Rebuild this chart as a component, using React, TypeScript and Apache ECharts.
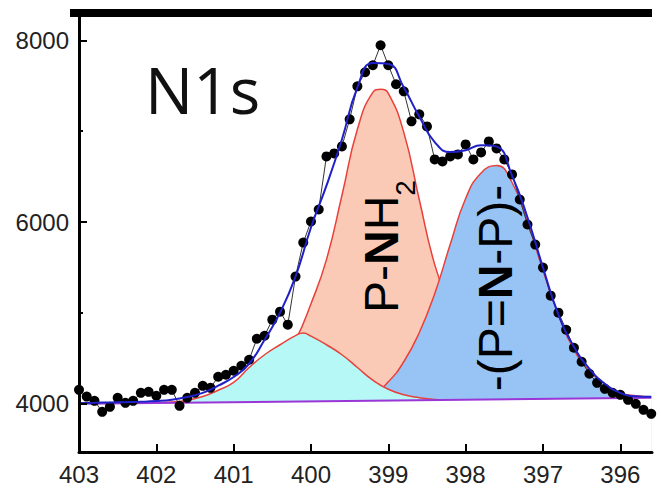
import React, { useEffect, useRef } from "react";
import * as echarts from "echarts";

// Binding energy (eV) of the measured points
const dataE = [
  403.0, 402.9, 402.8, 402.7, 402.6, 402.5, 402.4, 402.3, 402.2, 402.1,
  402.0, 401.9, 401.8, 401.7, 401.6, 401.5, 401.4, 401.3, 401.2, 401.1,
  401.0, 400.9, 400.8, 400.7, 400.6, 400.5, 400.4, 400.3, 400.2, 400.1,
  400.0, 399.9, 399.8, 399.7, 399.6, 399.5, 399.4, 399.3, 399.2, 399.1,
  399.0, 398.9, 398.8, 398.7, 398.6, 398.5, 398.4, 398.3, 398.2, 398.1,
  398.0, 397.9, 397.8, 397.7, 397.6, 397.5, 397.4, 397.3, 397.2, 397.1,
  397.0, 396.9, 396.8, 396.7, 396.6, 396.5, 396.4, 396.3, 396.2, 396.1,
  396.0, 395.9, 395.8, 395.7, 395.6,
];
// Measured intensity (counts)
const dataI = [
  4154, 4080, 4033, 3912, 3967, 4066, 4011, 4033, 4121, 4132,
  4088, 4154, 4154, 3978, 4066, 4121, 4198, 4176, 4298, 4320,
  4364, 4419, 4485, 4716, 4749, 4926, 5014, 4871, 5400, 5774,
  6006, 6138, 6722, 6755, 6832, 7130, 7493, 7648, 7725, 7945,
  7725, 7516, 7438, 7108, 7185, 7052, 6689, 6667, 6722, 6744,
  6854, 6689, 6766, 6887, 6810, 6689, 6524, 6248, 5973, 5752,
  5499, 5190, 5003, 4815, 4617, 4463, 4331, 4231, 4165, 4121,
  4099, 4044, 4000, 3934, 3890,
];

// Fitted envelope
const envE = [
  403.0, 402.8, 402.6, 402.4, 402.2, 402.0, 401.8, 401.6, 401.4, 401.2,
  401.0, 400.8, 400.6, 400.4, 400.2, 400.0, 399.8, 399.6, 399.4, 399.2,
  399.0, 398.8, 398.6, 398.4, 398.2, 398.0, 397.8, 397.6, 397.4, 397.2,
  397.0, 396.8, 396.6, 396.4, 396.2, 396.0, 395.8, 395.6,
];
const envI = [
  4010, 4012, 4015, 4018, 4022, 4030, 4045, 4075, 4120, 4200,
  4295, 4441, 4705, 5003, 5400, 5940, 6400, 6909, 7480, 7750,
  7740, 7480, 7160, 6880, 6770, 6790, 6845, 6830, 6510, 6050,
  5500, 4981, 4628, 4386, 4220, 4121, 4083, 4077,
];

// Component peaks
const cyanE = [402.0, 401.8, 401.6, 401.4, 401.2, 401.0, 400.8, 400.6, 400.4, 400.2, 400.1, 400.0, 399.8, 399.6, 399.4, 399.2, 399.0, 398.8, 398.6, 398.4, 398.2];
const cyanI = [4012, 4020, 4040, 4080, 4150, 4235, 4400, 4540, 4650, 4750, 4780, 4745, 4650, 4540, 4400, 4260, 4160, 4100, 4068, 4048, 4040];

const salmonE = [401.0, 400.8, 400.6, 400.4, 400.2, 400.0, 399.8, 399.6, 399.4, 399.2, 399.1, 399.0, 398.8, 398.6, 398.4, 398.2, 398.0, 397.8, 397.6, 397.4, 397.2, 397.0];
const salmonI = [4090, 4160, 4280, 4450, 4700, 5102, 5587, 6292, 7020, 7427, 7460, 7416, 6987, 6248, 5532, 5069, 4700, 4440, 4280, 4160, 4090, 4060];

const blueE = [399.4, 399.2, 399.0, 398.8, 398.6, 398.4, 398.2, 398.0, 397.8, 397.6, 397.4, 397.2, 397.0, 396.8, 396.6, 396.4, 396.2, 396.0, 395.8, 395.6];
const blueI = [4070, 4110, 4242, 4463, 4782, 5212, 5752, 6259, 6540, 6623, 6435, 6006, 5466, 4981, 4595, 4364, 4220, 4121, 4088, 4077];

// Background (baseline)
const baseE = [403.0, 395.6];
const baseI = [4000, 4066];

// Axis ticks
const xTicks = [403, 402, 401, 400, 399, 398, 397, 396];
const yMajor = [4000, 6000, 8000];
const yMinor = [5000, 7000];

const zip = (xs: number[], ys: number[]) => xs.map((x, i) => [x, ys[i]]);

export default function App() {
  const ref = useRef<HTMLDivElement>(null);
  useEffect(() => {
    const chart = echarts.init(ref.current!, null, { renderer: "svg" });
    const labelFont = "Liberation Sans";
    const peak = (E: number[], I: number[], fill: string, z: number) => ({
      type: "line",
      data: zip(E, I),
      smooth: true,
      symbol: "none",
      silent: true,
      z,
      lineStyle: { color: "#e8403a", width: 1.5 },
      areaStyle: { color: fill, opacity: 1, origin: "start" },
    });
    chart.setOption({
      animation: false,
      grid: { left: 79, right: 9, top: 13, bottom: 36, containLabel: false },
      xAxis: {
        type: "value",
        inverse: true,
        min: 395.59,
        max: 403,
        z: 20,
        axisLine: { show: true, lineStyle: { color: "#000", width: 3 } },
        axisTick: { show: true, inside: true, length: 8, lineStyle: { color: "#000", width: 2 }, customValues: xTicks },
        axisLabel: { customValues: xTicks, fontSize: 24, fontFamily: labelFont, color: "#222", margin: 10, formatter: (v: number) => String(v) },
        splitLine: { show: false },
      },
      yAxis: [
        {
          type: "value",
          min: 3470,
          max: 8300,
          z: 20,
          axisLine: { show: true, lineStyle: { color: "#000", width: 3 } },
          axisTick: { show: true, inside: true, length: 8, lineStyle: { color: "#000", width: 2 }, customValues: yMajor },
          axisLabel: { customValues: yMajor, fontSize: 24, fontFamily: labelFont, color: "#222", margin: 10, formatter: (v: number) => String(v) },
          splitLine: { show: false },
        },
        {
          type: "value",
          min: 3470,
          max: 8300,
          position: "left",
          z: 20,
          axisLine: { show: false },
          axisTick: { show: true, inside: true, length: 4, lineStyle: { color: "#000", width: 2 }, customValues: yMinor },
          axisLabel: { show: false },
          splitLine: { show: false },
        },
      ],
      series: [
        peak(salmonE, salmonI, "#fbcab6", 2),
        peak(blueE, blueI, "#97c4f4", 3),
        peak(cyanE, cyanI, "#b6f8f6", 4),
        {
          type: "line",
          data: zip(baseE, baseI),
          symbol: "none",
          silent: true,
          z: 5,
          lineStyle: { width: 0, opacity: 0 },
          areaStyle: { color: "#ffffff", opacity: 1, origin: "start" },
        },
        {
          type: "line",
          data: zip(baseE, baseI),
          symbol: "none",
          silent: true,
          z: 6,
          lineStyle: { color: "#9a35d6", width: 2 },
        },
        {
          type: "line",
          data: zip(dataE, dataI),
          symbol: "circle",
          symbolSize: 10,
          silent: true,
          z: 7,
          itemStyle: { color: "#000" },
          lineStyle: { color: "#333", width: 1 },
        },
        {
          type: "line",
          data: zip(envE, envI),
          smooth: true,
          symbol: "none",
          silent: true,
          z: 8,
          lineStyle: { color: "#2020c8", width: 2 },
        },
      ],
      graphic: [
        { type: "rect", shape: { x: 70, y: 9, width: 582, height: 8 }, style: { fill: "#000" }, z: 100 },
        {
          type: "text",
          x: 145,
          y: 89,
          z: 100,
          style: { text: "N1s", font: '64px "Open Sans"', fill: "#111", textAlign: "left", textVerticalAlign: "middle" },
        },
        {
          type: "text",
          x: 381.5,
          y: 246.5,
          rotation: Math.PI / 2,
          z: 100,
          style: {
            text: "{a|P-}{b|N}{a|H}{s|2}",
            textAlign: "center",
            textVerticalAlign: "middle",
            rich: {
              a: { fontSize: 48, fontFamily: labelFont, fill: "#000", lineHeight: 76, verticalAlign: "middle" },
              b: { fontSize: 48, fontFamily: labelFont, fontWeight: "bold", fill: "#000", lineHeight: 76, verticalAlign: "middle" },
              s: { fontSize: 28, fontFamily: labelFont, fill: "#000", lineHeight: 76, verticalAlign: "bottom" },
            },
          },
        },
        {
          type: "text",
          x: 495,
          y: 288,
          rotation: Math.PI / 2,
          z: 100,
          style: {
            text: "{a|-(P=}{b|N}{a|-P)-}",
            textAlign: "center",
            textVerticalAlign: "middle",
            rich: {
              a: { fontSize: 48, fontFamily: labelFont, fill: "#000", lineHeight: 56 },
              b: { fontSize: 48, fontFamily: labelFont, fontWeight: "bold", fill: "#000", lineHeight: 56 },
            },
          },
        },
      ],
    });
    return () => chart.dispose();
  }, []);
  return <div ref={ref} style={{ position: "absolute", left: 0, top: 0, width: 661, height: 488 }} />;
}
